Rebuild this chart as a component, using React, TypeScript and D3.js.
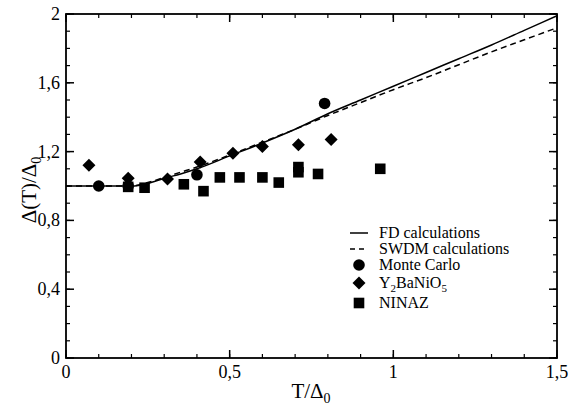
import React from "react";
import * as d3 from "d3";

const fdX = [0, 0.1, 0.2, 0.25, 0.3, 0.35, 0.4, 0.5, 0.6, 0.7, 0.8, 0.9, 1.0, 1.1, 1.2, 1.3, 1.4, 1.5];
const fdY = [1.0, 1.0, 1.0, 1.015, 1.045, 1.07, 1.1, 1.175, 1.25, 1.33, 1.42, 1.5, 1.58, 1.66, 1.74, 1.82, 1.905, 1.99];
const swX = [0, 0.1, 0.2, 0.25, 0.3, 0.35, 0.4, 0.5, 0.6, 0.7, 0.8, 0.9, 1.0, 1.1, 1.2, 1.3, 1.4, 1.5];
const swY = [1.0, 1.0, 1.0, 1.02, 1.05, 1.08, 1.11, 1.18, 1.255, 1.33, 1.41, 1.485, 1.56, 1.63, 1.705, 1.78, 1.85, 1.92];

const mcX = [0.1, 0.19, 0.4, 0.79];
const mcY = [1.0, 1.0, 1.065, 1.48];

const ybX = [0.07, 0.19, 0.31, 0.41, 0.51, 0.6, 0.71, 0.81];
const ybY = [1.12, 1.045, 1.04, 1.14, 1.19, 1.23, 1.24, 1.27];

const niX = [0.19, 0.24, 0.36, 0.42, 0.47, 0.53, 0.6, 0.65, 0.71, 0.71, 0.77, 0.96];
const niY = [0.995, 0.99, 1.01, 0.97, 1.05, 1.05, 1.05, 1.02, 1.11, 1.08, 1.07, 1.1];

const xTicks = [0, 0.5, 1, 1.5];
const xTickLabels = ["0", "0,5", "1", "1,5"];
const yTicks = [0, 0.4, 0.8, 1.2, 1.6, 2];
const yTickLabels = ["0", "0,4", "0,8", "1,2", "1,6", "2"];

const legendLabels = ["FD calculations", "SWDM calculations", "Monte Carlo", "Y2BaNiO5", "NINAZ"];

const W = 577;
const H = 408;
const L = 66, R = 557, T = 14, B = 358;
const FONT = "Liberation Serif, DejaVu Serif, serif";
const ts: React.CSSProperties = { fontFamily: FONT };

export default function App() {
  const x = d3.scaleLinear().domain([0, 1.5]).range([L, R]);
  const y = d3.scaleLinear().domain([0, 2]).range([B, T]);
  const line = d3.line<[number, number]>().x((d) => x(d[0])).y((d) => y(d[1])).curve(d3.curveMonotoneX);

  const fd = line(fdX.map((v, i) => [v, fdY[i]]) as [number, number][]) || "";
  const sw = line(swX.map((v, i) => [v, swY[i]]) as [number, number][]) || "";

  const xMinor = d3.range(0, 1.5001, 0.1);
  const yMinor = d3.range(0, 2.0001, 0.1);

  const diamond = (cx: number, cy: number, r: number) =>
    `M${cx},${cy - r}L${cx + r},${cy}L${cx},${cy + r}L${cx - r},${cy}Z`;

  const legX = 350, legTextX = 379;
  const legY = [233, 249, 265, 283, 303];

  return (
    <svg width={W} height={H} style={{ position: "absolute", left: 0, top: 0, fontFamily: FONT }}>
      <rect x={0} y={0} width={W} height={H} fill="#fff" />
      {xMinor.map((t, i) => (
        <g key={"xm" + i} stroke="#000" strokeWidth={1.2}>
          <line x1={x(t)} x2={x(t)} y1={B} y2={B - 4} />
          <line x1={x(t)} x2={x(t)} y1={T} y2={T + 4} />
        </g>
      ))}
      {yMinor.map((t, i) => (
        <g key={"ym" + i} stroke="#000" strokeWidth={1.2}>
          <line x1={L} x2={L + 4} y1={y(t)} y2={y(t)} />
          <line x1={R} x2={R - 4} y1={y(t)} y2={y(t)} />
        </g>
      ))}
      {xTicks.map((t, i) => (
        <g key={"xt" + i}>
          <line x1={x(t)} x2={x(t)} y1={B} y2={B - 8} stroke="#000" strokeWidth={1.5} />
          <line x1={x(t)} x2={x(t)} y1={T} y2={T + 8} stroke="#000" strokeWidth={1.5} />
          <text style={ts} x={x(t)} y={378} fontSize={18} textAnchor="middle">{xTickLabels[i]}</text>
        </g>
      ))}
      {yTicks.map((t, i) => (
        <g key={"yt" + i}>
          <line x1={L} x2={L + 8} y1={y(t)} y2={y(t)} stroke="#000" strokeWidth={1.5} />
          <line x1={R} x2={R - 8} y1={y(t)} y2={y(t)} stroke="#000" strokeWidth={1.5} />
          <text style={ts} x={60} y={y(t) + 6} fontSize={18} textAnchor="end">{yTickLabels[i]}</text>
        </g>
      ))}
      <rect x={L} y={T} width={R - L} height={B - T} fill="none" stroke="#000" strokeWidth={1.8} />

      <path d={fd} fill="none" stroke="#000" strokeWidth={1.5} />
      <path d={sw} fill="none" stroke="#000" strokeWidth={1.5} strokeDasharray="6,4" />

      {mcX.map((v, i) => (
        <circle key={"mc" + i} cx={x(v)} cy={y(mcY[i])} r={5.8} fill="#000" />
      ))}
      {ybX.map((v, i) => (
        <path key={"yb" + i} d={diamond(x(v), y(ybY[i]), 6.5)} fill="#000" />
      ))}
      {niX.map((v, i) => (
        <rect key={"ni" + i} x={x(v) - 5.3} y={y(niY[i]) - 5.3} width={10.6} height={10.6} fill="#000" />
      ))}

      <line x1={legX} x2={legX + 18} y1={legY[0]} y2={legY[0]} stroke="#000" strokeWidth={1.5} />
      <line x1={legX} x2={legX + 18} y1={legY[1]} y2={legY[1]} stroke="#000" strokeWidth={1.5} strokeDasharray="5,4" />
      <circle cx={legX + 9} cy={legY[2]} r={5.8} fill="#000" />
      <path d={diamond(legX + 9, legY[3], 6.5)} fill="#000" />
      <rect x={legX + 9 - 5.3} y={legY[4] - 5.3} width={10.6} height={10.6} fill="#000" />
      <text style={ts} x={legTextX} y={legY[0] + 5} fontSize={16}>{legendLabels[0]}</text>
      <text style={ts} x={legTextX} y={legY[1] + 5} fontSize={16}>{legendLabels[1]}</text>
      <text style={ts} x={legTextX} y={legY[2] + 5} fontSize={16}>{legendLabels[2]}</text>
      <text style={ts} x={legTextX} y={legY[3] + 5} fontSize={16}>
        Y<tspan fontSize={11} dy={4}>2</tspan><tspan dy={-4}>BaNiO</tspan><tspan fontSize={11} dy={4}>5</tspan>
      </text>
      <text style={ts} x={legTextX} y={legY[4] + 5} fontSize={16}>{legendLabels[4]}</text>

      <text style={ts} x={311} y={398} fontSize={21} textAnchor="middle">
        T/Δ<tspan fontSize={14} dy={5}>0</tspan>
      </text>
      <text style={ts} transform="translate(36,190) rotate(-90)" fontSize={21} textAnchor="middle">
        Δ(T)/Δ<tspan fontSize={14} dy={5}>0</tspan>
      </text>
    </svg>
  );
}
